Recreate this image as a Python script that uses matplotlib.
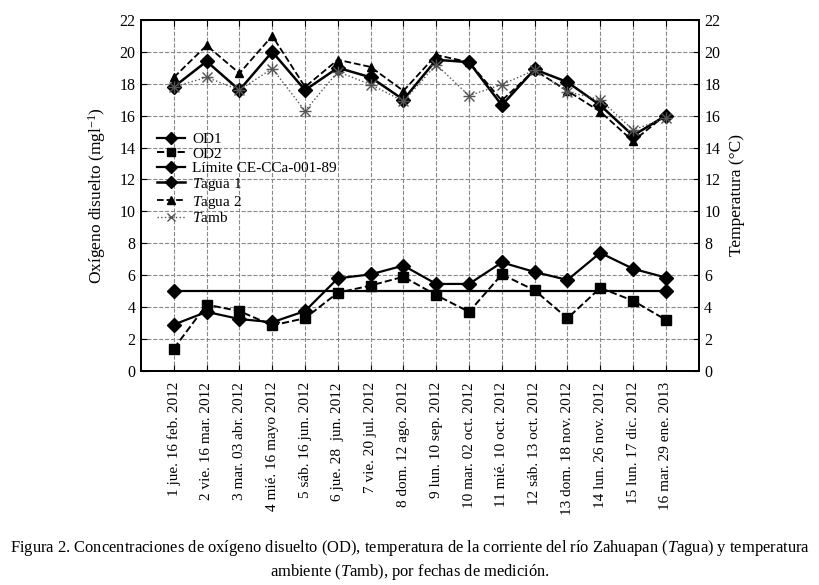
import matplotlib as mpl
import matplotlib.pyplot as plt

mpl.rcParams["font.family"] = ["Liberation Serif", "DejaVu Serif"]
mpl.rcParams["mathtext.fontset"] = "custom"
mpl.rcParams["mathtext.rm"] = "Liberation Serif"
mpl.rcParams["mathtext.it"] = "Liberation Serif:italic"

fechas = [
    "1 jue. 16 feb. 2012", "2 vie. 16 mar. 2012", "3 mar. 03 abr. 2012",
    "4 mié. 16 mayo 2012", "5 sáb. 16 jun. 2012", "6 jue. 28  jun. 2012",
    "7 vie. 20 jul. 2012", "8 dom. 12 ago. 2012", "9 lun. 10 sep. 2012",
    "10 mar. 02 oct. 2012", "11 mié. 10 oct. 2012", "12 sáb. 13 oct. 2012",
    "13 dom. 18 nov. 2012", "14 lun. 26 nov. 2012", "15 lun. 17 dic. 2012",
    "16 mar. 29 ene. 2013",
]
od1 = [2.9, 3.7, 3.25, 3.05, 3.75, 5.8, 6.05, 6.6, 5.45, 5.45, 6.8, 6.2, 5.7, 7.4, 6.4, 5.85]
od2 = [1.4, 4.15, 3.75, 2.85, 3.3, 4.9, 5.35, 5.9, 4.75, 3.7, 6.05, 5.05, 3.3, 5.2, 4.4, 3.2]
limite = [5.0] * 16
tagua1 = [17.8, 19.4, 17.6, 20.0, 17.6, 19.0, 18.4, 17.0, 19.5, 19.35, 16.65, 18.9, 18.1, 16.65, 14.75, 16.0]
tagua2 = [18.4, 20.4, 18.65, 21.0, 17.8, 19.5, 19.05, 17.55, 19.8, 19.35, 16.95, 18.85, 17.55, 16.25, 14.4, 16.05]
tamb = [17.8, 18.4, 17.6, 18.95, 16.3, 18.75, 17.95, 16.9, 19.2, 17.25, 17.95, 18.85, 17.5, 17.0, 15.1, 15.85]

x = list(range(1, len(fechas) + 1))

fig = plt.figure(figsize=(8.2, 5.85), dpi=100)
ax = fig.add_axes([0.172, 0.366, 0.680, 0.600])
ax2 = ax.twinx()

h1, = ax.plot(x, od1, "-", color="black", lw=1.6, marker="D", ms=7, label="OD1")
h2, = ax.plot(x, od2, "--", color="black", lw=1.4, marker="s", ms=7, label="OD2")
h3, = ax.plot(x, limite, "-", color="black", lw=1.6, marker="D", ms=7,
              markevery=[0, len(x) - 1], label="Límite CE-CCa-001-89")
h4, = ax2.plot(x, tagua1, "-", color="black", lw=1.8, marker="D", ms=7,
               label="$\\mathit{T}$agua 1")
h5, = ax2.plot(x, tagua2, "--", color="black", lw=1.3, marker="^", ms=6,
               label="$\\mathit{T}$agua 2")
h6, = ax2.plot(x, tamb, ":", color="#555555", lw=1.0, marker="x", ms=7,
               label="$\\mathit{T}$amb")
ax2.plot(x, tamb, linestyle="none", color="#555555", marker="+", ms=8)

for a in (ax, ax2):
    a.set_xlim(0, 17)
    a.set_ylim(0, 22)
    a.set_yticks(range(0, 23, 2))
    a.tick_params(direction="in", length=4, labelsize=11.5, pad=4)
    for s in a.spines.values():
        s.set_linewidth(1.4)

ax.set_xticks(x)
ax.set_xticklabels(fechas, rotation=90, fontsize=11)
ax.tick_params(axis="x", top=True, pad=8)
ax.grid(True, linestyle="--", color="#888888", lw=0.8)
ax.set_axisbelow(True)

ax.set_ylabel("Oxígeno disuelto (mgl$^{-1}$)", fontsize=12.5, labelpad=8)
ax2.set_ylabel("Temperatura (°C)", fontsize=12.5, labelpad=6)

ax2.legend(handles=[h1, h2, h3, h4, h5, h6], loc="upper left",
           bbox_to_anchor=(0.01, 0.71), frameon=False, fontsize=11,
           handlelength=1.8, handletextpad=0.5, labelspacing=0.05,
           borderpad=0.2, markerscale=0.85)

fig.text(0.5, 0.056,
         "Figura 2. Concentraciones de oxígeno disuelto (OD), temperatura de la corriente "
         "del río Zahuapan ($\\mathit{T}$agua) y temperatura",
         ha="center", fontsize=11.9)
fig.text(0.5, 0.016,
         "ambiente ($\\mathit{T}$amb), por fechas de medición.",
         ha="center", fontsize=11.9)

fig.savefig("out.png", dpi=100)
